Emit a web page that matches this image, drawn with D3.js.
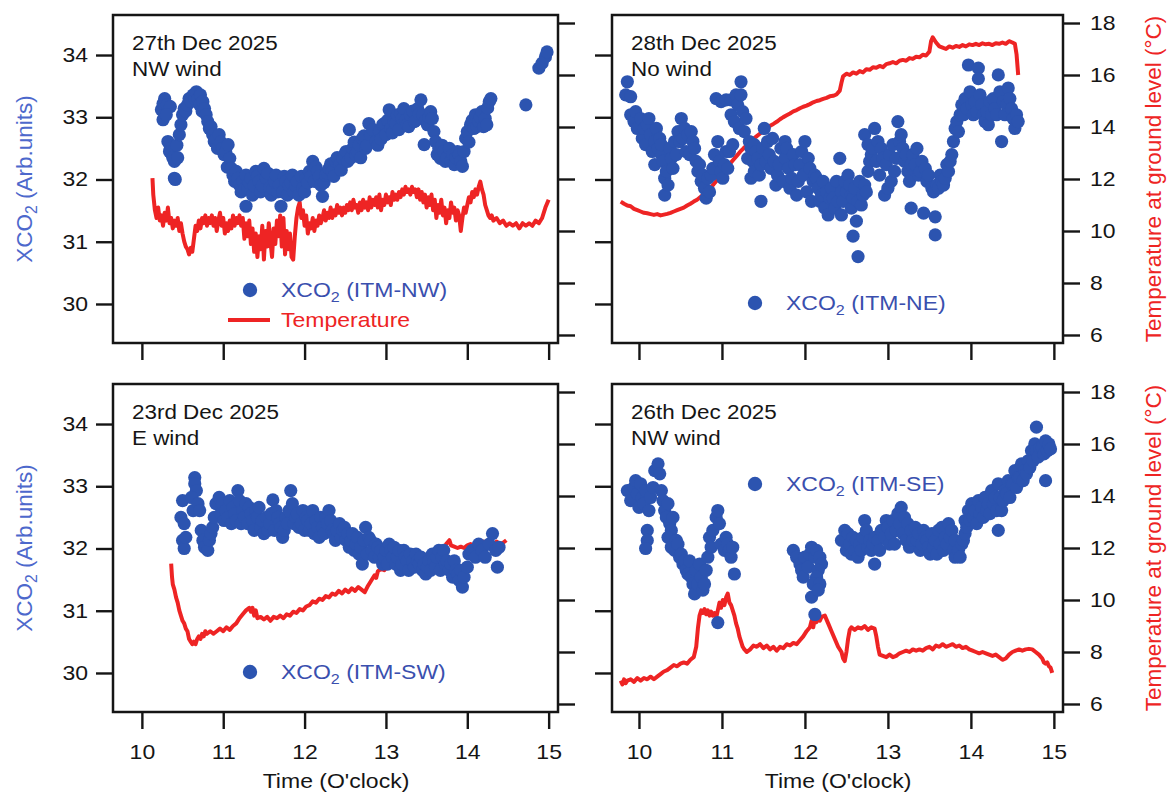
<!DOCTYPE html>
<html>
<head>
<meta charset="utf-8">
<script src="https://cdn.jsdelivr.net/npm/d3@7"></script>
<style>
  body { margin: 0; background: #fff; }
  svg { font-family: "Liberation Sans", Arial, sans-serif; }
  /* the source figure has slightly wide lettering */
  .wide { transform-box: fill-box; transform: scaleX(1.15); }
  .wide.start { transform-origin: 0% 50%; }
  .wide.mid { transform-origin: 50% 50%; }
  .wide.end { transform-origin: 100% 50%; }
</style>
</head>
<body>
<svg id="chart" width="1167" height="796"></svg>
<script>
// tick values
const timeTicks = [10, 11, 12, 13, 14, 15];
const xco2Ticks = [30, 31, 32, 33, 34];
const tempTicks = [6, 8, 10, 12, 14, 16, 18];

// 27th Dec, ITM-NW  [time, XCO2]
const xco2NW = [
  [10.24,33.12],[10.26,33.22],[10.28,33.30],[10.31,33.20],[10.35,33.17],[10.26,32.96],[10.30,33.04],[10.32,32.61],[10.35,32.50],[10.37,32.40],
  [10.40,32.29],[10.34,32.45],[10.40,32.02],[10.41,32.00],[10.38,32.35],[10.43,32.55],[10.44,32.35],[10.46,32.72],[10.48,32.88],[10.50,33.04],
  [10.52,33.14],[10.54,33.10],[10.56,33.20],[10.58,33.30],[10.60,33.25],[10.63,33.36],[10.65,33.30],[10.67,33.41],[10.69,33.30],[10.71,33.20],
  [10.72,33.36],[10.74,33.10],[10.75,33.25],[10.77,33.14],[10.79,33.04],[10.81,32.93],[10.83,32.82],[10.85,32.85],[10.87,32.72],[10.89,32.61],
  [10.91,32.65],[10.93,32.50],[10.95,32.72],[10.97,32.60],[10.99,32.50],[11.01,32.40],[11.03,32.45],[11.05,32.20],[11.06,32.56],[11.08,32.34],
  [11.10,32.18],[11.12,32.07],[11.14,31.97],[11.16,32.13],[11.18,32.02],[11.20,31.91],[11.22,31.80],[11.24,31.97],[11.26,31.85],[11.28,32.07],
  [11.30,31.86],[11.28,31.57],[11.32,31.95],[11.34,32.02],[11.36,31.75],[11.38,31.90],[11.40,32.13],[11.42,32.05],[11.44,31.97],[11.46,31.80],
  [11.48,31.90],[11.50,32.18],[11.53,32.02],[11.55,32.10],[11.57,31.86],[11.59,31.75],[11.61,31.85],[11.63,31.97],[11.65,32.07],[11.67,31.80],
  [11.69,31.91],[11.71,31.57],[11.73,31.80],[11.75,32.05],[11.77,31.97],[11.79,31.75],[11.81,31.91],[11.83,31.95],[11.85,32.07],[11.87,31.80],
  [11.89,31.90],[11.91,31.97],[11.93,31.75],[11.96,32.05],[11.98,31.86],[12.00,31.80],[12.02,32.02],[12.04,31.95],[12.06,32.13],[12.08,32.05],
  [12.10,32.29],[12.12,31.97],[12.14,32.20],[12.16,32.13],[12.18,32.05],[12.20,31.91],[12.22,31.73],[12.24,31.95],[12.26,32.07],[12.28,32.10],
  [12.30,32.18],[12.32,32.25],[12.34,32.13],[12.36,32.05],[12.38,32.29],[12.40,32.35],[12.43,32.24],[12.45,32.15],[12.47,32.34],[12.49,32.40],
  [12.51,32.45],[12.53,32.29],[12.55,32.80],[12.57,32.35],[12.59,32.50],[12.61,32.60],[12.63,32.40],[12.65,32.45],[12.67,32.56],[12.69,32.35],
  [12.71,32.66],[12.73,32.70],[12.75,32.50],[12.77,32.55],[12.79,32.90],[12.81,32.72],[12.84,32.80],[12.88,32.61],[12.90,32.55],[12.92,32.77],
  [12.94,32.65],[12.96,32.88],[12.98,32.90],[13.00,32.72],[13.02,32.95],[13.04,33.12],[13.06,32.82],[13.08,32.75],[13.10,32.93],[13.12,32.90],
  [13.14,33.04],[13.16,32.80],[13.18,33.05],[13.20,32.98],[13.22,33.14],[13.24,32.95],[13.26,32.88],[13.28,32.85],[13.30,33.04],[13.33,33.10],
  [13.35,32.93],[13.37,32.95],[13.39,33.14],[13.41,33.05],[13.43,33.28],[13.45,33.04],[13.47,32.56],[13.49,32.95],[13.51,32.88],[13.53,33.00],
  [13.55,33.09],[13.57,32.98],[13.59,32.77],[13.61,32.61],[13.63,32.40],[13.65,32.50],[13.67,32.34],[13.69,32.55],[13.71,32.45],[13.73,32.29],
  [13.75,32.35],[13.78,32.50],[13.80,32.30],[13.82,32.40],[13.84,32.24],[13.86,32.35],[13.88,32.45],[13.90,32.40],[13.92,32.29],[13.94,32.21],
  [13.96,32.45],[13.98,32.66],[14.00,32.77],[14.02,32.60],[14.04,32.88],[14.06,32.95],[14.08,32.82],[14.10,33.04],[14.12,32.85],[14.14,32.93],
  [14.16,33.00],[14.18,33.09],[14.20,32.85],[14.22,32.98],[14.24,32.88],[14.25,33.15],[14.27,33.25],[14.29,33.30],[14.72,33.20],[14.88,33.79],
  [14.92,33.87],[14.96,33.97],[14.98,34.05]
];

// 27th Dec temperature [time, degC]
const tempNW = [
  [10.13,12.03],[10.14,11.4],[10.16,10.8],[10.18,10.5],[10.20,10.9],[10.22,10.4],[10.24,10.6],[10.26,10.2],[10.28,10.7],[10.30,10.4],
  [10.32,10.9],[10.34,10.3],[10.36,10.5],[10.38,10.1],[10.40,10.4],[10.42,10.2],[10.44,10.5],[10.46,10.0],[10.48,10.3],[10.50,9.9],
  [10.52,9.6],[10.54,9.4],[10.56,9.3],[10.58,9.1],[10.60,9.35],[10.62,9.2],[10.64,9.7],[10.66,10.2],[10.68,10.0],[10.70,10.4],
  [10.72,10.1],[10.74,10.5],[10.76,10.3],[10.78,10.6],[10.80,10.2],[10.82,10.5],[10.84,10.3],[10.86,10.6],[10.88,10.2],[10.90,10.5],
  [10.92,10.0],[10.94,10.4],[10.96,10.7],[10.98,10.2],[11.00,10.5],[11.02,9.9],[11.04,10.3],[11.06,10.0],[11.08,10.4],[11.10,10.1],
  [11.12,10.6],[11.14,10.2],[11.16,10.5],[11.18,10.3],[11.20,10.6],[11.22,10.2],[11.24,10.5],[11.26,9.7],[11.28,10.3],[11.30,9.8],
  [11.32,10.4],[11.34,9.5],[11.36,10.1],[11.38,9.2],[11.40,9.9],[11.42,9.0],[11.44,9.8],[11.46,9.3],[11.48,10.2],[11.50,8.9],
  [11.52,10.0],[11.54,9.4],[11.56,10.3],[11.58,9.6],[11.60,9.0],[11.62,10.1],[11.64,9.5],[11.66,10.4],[11.68,9.8],[11.70,10.6],
  [11.72,9.4],[11.74,10.5],[11.76,9.1],[11.78,10.0],[11.80,9.3],[11.82,9.9],[11.84,9.0],[11.86,8.9],[11.88,9.8],[11.90,10.5],
  [11.92,10.9],[11.94,11.1],[11.96,10.5],[11.98,10.8],[12.00,10.2],[12.02,10.6],[12.04,9.9],[12.06,10.3],[12.08,10.1],[12.10,10.5],
  [12.12,10.0],[12.14,10.4],[12.16,10.2],[12.18,10.6],[12.20,10.3],[12.22,10.5],[12.24,10.8],[12.26,10.4],[12.28,10.7],[12.30,10.5],
  [12.32,10.9],[12.34,10.5],[12.36,10.8],[12.38,10.6],[12.40,11.0],[12.42,10.7],[12.44,10.9],[12.46,10.6],[12.48,10.9],[12.50,10.7],
  [12.52,11.0],[12.54,10.8],[12.56,11.1],[12.58,10.8],[12.60,11.2],[12.62,10.9],[12.64,11.0],[12.66,10.7],[12.68,11.1],[12.70,10.8],
  [12.72,11.2],[12.74,10.9],[12.76,11.1],[12.78,10.8],[12.80,11.3],[12.82,10.9],[12.84,11.2],[12.86,11.0],[12.88,11.3],[12.90,10.9],
  [12.92,11.4],[12.94,10.8],[12.96,11.2],[12.98,11.0],[13.00,11.4],[13.02,11.1],[13.04,11.3],[13.06,11.0],[13.08,11.5],[13.10,11.2],
  [13.12,11.4],[13.14,11.2],[13.16,11.5],[13.18,11.3],[13.20,11.6],[13.22,11.4],[13.24,11.7],[13.26,11.5],[13.28,11.6],[13.30,11.4],
  [13.32,11.7],[13.34,11.5],[13.36,11.6],[13.38,11.3],[13.40,11.6],[13.42,11.2],[13.44,11.5],[13.46,11.1],[13.48,11.4],[13.50,10.9],
  [13.52,11.3],[13.54,11.0],[13.56,11.4],[13.58,10.8],[13.60,11.2],[13.62,10.5],[13.64,11.0],[13.66,10.7],[13.68,11.2],[13.70,10.6],
  [13.72,10.9],[13.74,10.3],[13.76,10.8],[13.78,10.5],[13.80,11.1],[13.82,10.7],[13.84,10.9],[13.86,10.4],[13.88,10.8],[13.90,10.6],
  [13.92,10.0],[13.94,10.5],[13.96,10.9],[13.98,10.7],[14.00,11.0],[14.02,11.3],[14.04,11.1],[14.06,11.5],[14.08,11.3],[14.10,11.6],
  [14.12,11.4],[14.14,11.7],[14.16,11.9],[14.18,11.6],[14.20,11.4],[14.22,11.0],[14.24,10.8],[14.26,10.6],[14.28,10.5],[14.30,10.6],
  [14.32,10.4],[14.36,10.5],[14.40,10.3],[14.44,10.4],[14.48,10.2],[14.52,10.3],[14.56,10.2],[14.60,10.3],[14.64,10.1],[14.68,10.3],
  [14.72,10.2],[14.76,10.3],[14.80,10.2],[14.84,10.4],[14.88,10.3],[14.92,10.5],[14.96,10.9],[15.00,11.2]
];

// 28th Dec, ITM-NE  [time, XCO2]
const xco2NE = [
  [9.86,33.57],[9.84,33.36],[9.90,33.33],[9.90,33.04],[9.94,32.93],[9.96,33.09],[9.98,32.82],[10.02,32.98],[10.04,32.66],[10.06,32.82],
  [10.08,32.56],[10.10,32.88],[10.12,32.98],[10.14,32.72],[10.16,32.45],[10.19,32.61],[10.21,32.82],[10.23,32.50],[10.25,32.66],[10.27,32.40],
  [10.27,32.56],[10.19,32.24],[10.29,32.29],[10.31,32.02],[10.31,31.75],[10.33,32.13],[10.35,31.91],[10.37,32.50],[10.39,32.34],[10.41,32.18],
  [10.43,32.61],[10.45,32.40],[10.47,32.77],[10.49,32.61],[10.51,32.98],[10.53,32.66],[10.55,32.82],[10.57,32.45],[10.59,32.72],[10.61,32.40],
  [10.63,32.77],[10.65,32.61],[10.67,32.50],[10.69,32.29],[10.71,32.13],[10.73,32.24],[10.75,31.97],[10.77,32.07],[10.79,31.86],[10.81,31.70],
  [10.83,32.02],[10.85,31.80],[10.87,32.07],[10.89,32.18],[10.91,32.40],[10.93,33.30],[10.95,32.61],[10.97,32.29],[10.99,32.13],[10.99,33.25],
  [11.01,32.02],[11.03,32.24],[11.05,32.45],[11.05,33.28],[11.07,32.18],[11.09,32.45],[11.11,33.28],[11.11,33.04],[11.13,32.56],[11.15,32.93],
  [11.17,33.36],[11.19,33.20],[11.21,32.82],[11.23,33.36],[11.23,33.57],[11.25,33.09],[11.27,32.77],[11.29,32.98],[11.31,32.34],[11.33,32.61],
  [11.35,32.50],[11.35,32.02],[11.37,32.29],[11.39,32.56],[11.39,32.13],[11.41,32.45],[11.43,32.34],[11.45,32.07],[11.47,32.24],[11.47,31.65],
  [11.49,32.50],[11.51,32.82],[11.53,32.29],[11.55,32.61],[11.57,32.40],[11.59,32.18],[11.61,32.66],[11.63,32.29],[11.65,31.91],[11.67,32.07],
  [11.69,32.24],[11.71,32.50],[11.74,31.97],[11.76,32.61],[11.76,32.34],[11.78,32.50],[11.80,32.18],[11.82,31.86],[11.84,32.02],[11.86,32.40],
  [11.88,32.24],[11.90,31.75],[11.92,31.97],[11.94,32.24],[11.96,32.45],[11.98,32.07],[12.00,32.61],[12.02,31.80],[12.04,32.34],[12.06,32.18],
  [12.08,31.65],[12.10,31.97],[12.12,32.07],[12.14,32.02],[12.16,31.86],[12.18,31.65],[12.20,31.75],[12.22,31.97],[12.24,31.54],[12.26,31.80],
  [12.28,31.43],[12.30,31.70],[12.32,31.86],[12.34,31.70],[12.36,31.54],[12.38,31.97],[12.40,31.65],[12.42,32.34],[12.44,31.80],[12.44,31.43],
  [12.46,31.65],[12.48,31.97],[12.50,31.80],[12.52,32.07],[12.54,31.91],[12.56,31.75],[12.56,31.54],[12.58,31.70],[12.60,31.86],[12.62,31.33],
  [12.58,31.09],[12.64,30.76],[12.64,31.65],[12.66,31.97],[12.68,31.59],[12.70,31.75],[12.72,31.91],[12.74,31.80],[12.76,32.13],[12.72,32.72],
  [12.76,32.56],[12.78,32.29],[12.80,32.40],[12.82,32.50],[12.84,32.82],[12.86,32.29],[12.88,32.61],[12.90,32.07],[12.92,32.50],[12.94,32.34],
  [12.96,31.75],[12.98,32.24],[13.00,31.86],[13.02,32.40],[13.04,31.97],[13.06,32.56],[13.08,32.13],[13.10,32.34],[13.12,32.93],[13.14,32.61],
  [13.16,32.72],[13.18,32.50],[13.20,32.29],[13.22,32.40],[13.24,32.13],[13.26,31.97],[13.28,32.24],[13.28,31.54],[13.30,32.40],[13.33,32.24],
  [13.35,32.50],[13.37,32.07],[13.39,32.13],[13.41,32.29],[13.43,31.46],[13.45,32.18],[13.47,31.97],[13.49,32.07],[13.53,31.86],[13.55,31.80],
  [13.57,31.40],[13.57,31.11],[13.59,31.91],[13.61,31.86],[13.63,32.07],[13.65,31.97],[13.67,31.91],[13.69,32.02],[13.71,32.24],[13.73,32.13],
  [13.75,32.29],[13.77,32.40],[13.79,32.61],[13.81,32.82],[13.83,32.93],[13.85,32.77],[13.87,33.04],[13.89,33.20],[13.91,33.04],[13.93,33.30],
  [13.95,33.14],[13.97,33.84],[13.99,33.41],[14.01,33.20],[14.03,33.04],[14.05,33.25],[14.07,33.09],[14.09,33.79],[14.09,33.62],[14.11,33.36],
  [14.13,33.20],[14.15,33.04],[14.17,32.93],[14.19,33.09],[14.21,32.88],[14.23,33.25],[14.25,33.04],[14.27,33.30],[14.29,33.14],[14.31,33.04],
  [14.33,33.68],[14.35,33.41],[14.37,32.61],[14.39,33.25],[14.41,33.04],[14.43,33.20],[14.45,33.47],[14.47,33.30],[14.49,33.14],[14.51,32.98],
  [14.53,32.82],[14.55,33.04],[14.57,32.93]
];

// 28th Dec temperature
const tempNE = [
  [9.78,11.13],[9.82,11.05],[9.86,10.98],[9.90,10.95],[9.94,10.85],[9.98,10.8],[10.02,10.75],[10.06,10.7],[10.10,10.68],[10.14,10.65],
  [10.18,10.62],[10.22,10.65],[10.26,10.6],[10.30,10.63],[10.34,10.66],[10.38,10.7],[10.42,10.75],[10.46,10.8],[10.50,10.85],[10.54,10.9],
  [10.58,10.98],[10.62,11.05],[10.66,11.13],[10.70,11.2],[10.74,11.3],[10.78,11.42],[10.82,11.55],[10.86,11.65],[10.90,11.8],[10.94,11.95],
  [10.98,12.1],[11.02,12.3],[11.06,12.45],[11.10,12.6],[11.14,12.75],[11.18,12.9],[11.22,13.05],[11.26,13.18],[11.30,13.3],[11.34,13.45],
  [11.38,13.55],[11.42,13.65],[11.46,13.75],[11.50,13.85],[11.54,13.95],[11.58,14.05],[11.62,14.12],[11.66,14.2],[11.70,14.3],[11.74,14.38],
  [11.78,14.45],[11.82,14.52],[11.86,14.6],[11.90,14.65],[11.94,14.72],[11.98,14.78],[12.02,14.82],[12.06,14.88],[12.10,14.95],[12.14,15.0],
  [12.18,15.03],[12.22,15.08],[12.26,15.12],[12.30,15.18],[12.34,15.2],[12.38,15.25],[12.42,15.4],[12.44,15.7],[12.46,15.95],[12.50,16.05],
  [12.54,16.0],[12.58,16.1],[12.62,16.05],[12.66,16.15],[12.70,16.1],[12.74,16.22],[12.78,16.2],[12.82,16.3],[12.86,16.28],[12.90,16.35],
  [12.94,16.3],[12.98,16.42],[13.02,16.45],[13.06,16.5],[13.10,16.45],[13.14,16.55],[13.18,16.58],[13.22,16.55],[13.26,16.65],[13.30,16.62],
  [13.34,16.7],[13.38,16.68],[13.42,16.78],[13.46,16.75],[13.50,16.9],[13.52,17.3],[13.54,17.45],[13.58,17.25],[13.62,17.1],[13.66,17.05],
  [13.70,17.0],[13.74,17.1],[13.78,17.05],[13.82,17.12],[13.86,17.08],[13.90,17.15],[13.94,17.1],[13.98,17.18],[14.02,17.15],[14.06,17.2],
  [14.10,17.15],[14.14,17.22],[14.18,17.18],[14.22,17.2],[14.26,17.15],[14.30,17.22],[14.34,17.2],[14.38,17.25],[14.42,17.2],[14.46,17.3],
  [14.50,17.25],[14.53,17.2],[14.55,16.8],[14.57,16.0]
];

// 23rd Dec, ITM-SW  [time, XCO2]
const xco2SW = [
  [10.50,32.77],[10.48,32.50],[10.52,32.40],[10.50,32.13],[10.52,32.00],[10.54,32.18],[10.63,32.61],[10.65,33.14],[10.65,33.04],[10.67,32.93],
  [10.61,32.82],[10.69,32.72],[10.71,32.61],[10.73,32.29],[10.75,32.13],[10.77,32.02],[10.81,31.97],[10.83,32.13],[10.85,32.24],[10.87,32.34],
  [10.89,32.50],[10.91,32.72],[10.95,32.82],[10.97,32.56],[10.99,32.72],[11.01,32.45],[11.03,32.61],[11.06,32.50],[11.08,32.77],[11.10,32.40],
  [11.12,32.66],[11.14,32.56],[11.16,32.45],[11.18,32.93],[11.20,32.77],[11.22,32.40],[11.24,32.61],[11.26,32.50],[11.28,32.72],[11.30,32.40],
  [11.32,32.66],[11.34,32.56],[11.36,32.45],[11.38,32.29],[11.40,32.61],[11.42,32.50],[11.44,32.66],[11.46,32.34],[11.48,32.45],[11.50,32.24],
  [11.53,32.50],[11.55,32.29],[11.57,32.40],[11.59,32.56],[11.61,32.78],[11.63,32.29],[11.65,32.61],[11.67,32.50],[11.69,32.40],[11.71,32.34],
  [11.73,32.18],[11.75,32.29],[11.77,32.50],[11.79,32.40],[11.81,32.61],[11.83,32.93],[11.85,32.72],[11.87,32.40],[11.89,32.50],[11.91,32.56],
  [11.93,32.34],[11.96,32.40],[11.98,32.61],[12.00,32.29],[12.02,32.50],[12.04,32.45],[12.06,32.29],[12.08,32.40],[12.10,32.61],[12.12,32.24],
  [12.14,32.45],[12.16,32.34],[12.18,32.18],[12.20,32.50],[12.22,32.34],[12.24,32.24],[12.26,32.50],[12.28,32.40],[12.30,32.61],[12.32,32.45],
  [12.34,32.29],[12.36,32.24],[12.38,32.13],[12.40,32.29],[12.43,32.40],[12.45,32.18],[12.47,32.29],[12.49,32.34],[12.51,32.13],[12.53,32.24],
  [12.55,32.02],[12.57,32.13],[12.59,32.24],[12.61,31.97],[12.63,32.07],[12.65,32.18],[12.67,31.91],[12.69,32.02],[12.71,31.75],[12.73,32.13],
  [12.75,32.34],[12.77,31.91],[12.79,32.18],[12.81,32.13],[12.83,31.97],[12.86,31.86],[12.88,32.07],[12.90,32.02],[12.92,31.86],[12.94,31.97],
  [12.96,31.75],[12.98,31.86],[13.00,31.97],[13.02,31.75],[13.04,32.07],[13.06,31.97],[13.08,31.86],[13.10,32.02],[13.12,31.75],[13.14,31.86],
  [13.16,31.97],[13.18,31.65],[13.20,31.75],[13.22,31.97],[13.24,31.86],[13.26,31.80],[13.28,31.65],[13.30,31.91],[13.33,31.80],[13.35,31.70],
  [13.37,31.91],[13.39,31.80],[13.41,31.75],[13.43,31.86],[13.45,31.65],[13.47,31.75],[13.49,31.59],[13.51,31.70],[13.53,31.80],[13.55,31.65],
  [13.57,31.91],[13.59,31.80],[13.61,31.70],[13.63,31.86],[13.65,31.97],[13.67,31.65],[13.69,31.86],[13.71,31.97],[13.73,31.75],[13.75,31.80],
  [13.78,31.65],[13.80,31.75],[13.82,31.54],[13.84,31.80],[13.86,31.65],[13.88,31.59],[13.90,31.49],[13.92,31.65],[13.94,31.38],[13.96,31.54],
  [14.00,31.70],[14.02,31.91],[14.06,31.97],[14.10,31.86],[14.14,32.07],[14.18,31.97],[14.22,31.86],[14.27,32.07],[14.31,32.24],[14.35,31.97],
  [14.37,31.70],[14.39,32.02]
];

// 23rd Dec temperature
const tempSW = [
  [10.36,11.4],[10.37,10.9],[10.38,10.6],[10.40,10.4],[10.42,10.1],[10.44,9.9],[10.46,9.6],[10.48,9.4],[10.50,9.2],[10.52,9.1],
  [10.54,8.9],[10.56,8.8],[10.58,8.5],[10.60,8.4],[10.62,8.3],[10.64,8.4],[10.66,8.3],[10.68,8.5],[10.70,8.6],[10.72,8.5],
  [10.74,8.7],[10.76,8.6],[10.78,8.8],[10.80,8.7],[10.84,8.8],[10.88,8.7],[10.92,8.8],[10.96,8.9],[11.00,8.8],[11.04,8.95],
  [11.08,8.85],[11.12,9.0],[11.16,9.1],[11.20,9.3],[11.24,9.45],[11.28,9.6],[11.32,9.7],[11.34,9.55],[11.36,9.7],[11.38,9.4],
  [11.40,9.6],[11.42,9.3],[11.46,9.35],[11.50,9.25],[11.54,9.35],[11.58,9.2],[11.62,9.35],[11.66,9.3],[11.70,9.4],[11.74,9.3],
  [11.78,9.45],[11.82,9.4],[11.86,9.55],[11.90,9.5],[11.94,9.65],[11.98,9.6],[12.02,9.75],[12.06,9.8],[12.10,9.95],[12.14,9.9],
  [12.18,10.05],[12.22,10.0],[12.26,10.15],[12.30,10.1],[12.34,10.25],[12.38,10.2],[12.42,10.35],[12.46,10.25],[12.50,10.4],[12.54,10.3],
  [12.58,10.45],[12.62,10.35],[12.66,10.5],[12.70,10.4],[12.74,10.3],[12.78,10.55],[12.82,10.75],[12.86,10.95],[12.88,10.85],[12.90,11.1],
  [12.94,11.2],[12.98,11.15],[13.02,11.3],[13.06,11.35],[13.10,11.25],[13.14,11.4],[13.18,11.3],[13.22,11.45],[13.26,11.4],[13.30,11.5],
  [13.34,11.45],[13.38,11.6],[13.42,11.55],[13.46,11.6],[13.50,11.7],[13.54,11.65],[13.58,11.75],[13.62,11.8],[13.66,11.75],[13.70,11.9],
  [13.74,12.15],[13.78,12.3],[13.80,12.1],[13.84,12.05],[13.88,12.0],[13.92,12.05],[13.96,12.0],[14.00,12.1],[14.04,12.15],[14.08,12.1],
  [14.12,12.2],[14.16,12.15],[14.20,12.25],[14.24,12.2],[14.28,12.15],[14.32,12.1],[14.36,12.25],[14.40,12.15],[14.44,12.2],[14.48,12.3]
];

// 26th Dec, ITM-SE  [time, XCO2]
const xco2SE = [
  [9.86,32.93],[9.90,32.77],[9.94,32.98],[9.96,33.09],[9.98,32.88],[10.00,32.66],[10.02,33.04],[10.04,32.82],[10.06,32.72],[10.08,32.93],
  [10.10,32.29],[10.10,32.13],[10.08,32.00],[10.12,32.61],[10.14,32.82],[10.17,32.98],[10.19,33.25],[10.23,33.36],[10.25,33.20],[10.27,32.93],
  [10.29,32.77],[10.31,32.61],[10.33,32.50],[10.35,32.72],[10.37,32.40],[10.39,32.29],[10.41,32.50],[10.35,32.18],[10.39,32.02],[10.43,31.97],
  [10.45,32.13],[10.47,32.07],[10.49,31.86],[10.51,31.91],[10.53,31.75],[10.55,31.80],[10.57,31.65],[10.59,31.59],[10.61,31.80],[10.63,31.54],
  [10.65,31.43],[10.67,31.27],[10.69,31.65],[10.71,31.43],[10.73,31.75],[10.75,31.54],[10.77,31.33],[10.79,31.43],[10.81,31.65],[10.83,31.86],
  [10.85,32.18],[10.87,32.02],[10.89,32.29],[10.93,32.50],[10.95,32.61],[10.97,32.40],[10.99,32.07],[11.03,31.97],[11.05,32.18],[11.07,32.07],
  [11.09,31.97],[11.11,31.86],[11.13,32.02],[11.15,31.59],[10.95,30.81],
  [11.86,31.97],[11.90,31.86],[11.94,31.75],[11.96,31.65],[11.98,31.54],[12.00,31.86],[12.04,31.70],[12.06,31.91],[12.08,32.02],[12.12,31.86],
  [12.14,31.97],[12.18,31.86],[12.20,31.75],[12.16,31.65],[12.14,31.54],[12.10,31.43],[12.08,31.22],[12.18,31.43],[12.16,31.33],[12.12,30.94],
  [12.44,32.13],[12.48,32.29],[12.50,31.97],[12.52,32.24],[12.54,32.07],[12.56,31.91],[12.58,32.18],[12.60,31.97],[12.62,32.13],[12.64,31.86],
  [12.66,32.07],[12.68,31.97],[12.70,32.18],[12.72,32.45],[12.74,32.29],[12.76,32.02],[12.78,32.13],[12.80,31.97],[12.82,32.07],[12.84,31.75],
  [12.84,32.18],[12.88,32.13],[12.90,31.97],[12.92,32.29],[12.96,32.18],[12.98,32.45],[13.00,32.34],[13.02,32.07],[13.04,32.24],[13.06,32.45],
  [13.08,32.07],[13.10,32.29],[13.12,32.56],[13.14,32.40],[13.16,32.66],[13.18,32.24],[13.20,32.50],[13.22,32.13],[13.24,32.40],[13.26,32.02],
  [13.28,32.29],[13.30,32.13],[13.33,32.34],[13.35,32.13],[13.37,32.24],[13.39,31.97],[13.41,32.07],[13.43,32.29],[13.45,32.18],[13.47,32.13],
  [13.49,32.02],[13.51,31.91],[13.53,32.24],[13.55,32.02],[13.57,32.13],[13.59,31.91],[13.61,32.29],[13.63,32.07],[13.65,32.34],[13.67,31.97],
  [13.69,32.18],[13.71,32.07],[13.73,32.40],[13.75,32.18],[13.77,32.29],[13.79,31.97],[13.81,32.13],[13.81,31.86],[13.85,31.97],[13.87,31.86],
  [13.89,32.07],[13.91,32.13],[13.93,32.24],[13.93,32.45],[13.95,32.34],[13.97,32.61],[13.99,32.45],[14.01,32.72],[14.03,32.50],[14.05,32.61],
  [14.07,32.40],[14.09,32.77],[14.11,32.56],[14.13,32.66],[14.15,32.50],[14.17,32.82],[14.19,32.61],[14.21,32.72],[14.23,32.56],[14.25,32.93],
  [14.27,32.72],[14.29,32.82],[14.31,32.61],[14.33,33.04],[14.33,32.29],[14.35,32.82],[14.37,32.61],[14.39,32.77],[14.41,32.93],[14.43,32.88],
  [14.45,33.09],[14.47,32.82],[14.49,33.04],[14.51,33.04],[14.53,33.25],[14.55,32.98],[14.57,33.14],[14.59,33.14],[14.61,33.36],[14.63,33.09],
  [14.65,33.25],[14.67,33.20],[14.69,33.41],[14.71,33.30],[14.73,33.57],[14.75,33.41],[14.77,33.68],[14.79,33.57],[14.79,33.95],[14.81,33.47],
  [14.83,33.62],[14.86,33.62],[14.88,33.52],[14.90,33.73],[14.92,33.57],[14.94,33.68],[14.90,33.09],[14.96,33.60]
];

// 26th Dec temperature
const tempSE = [
  [9.78,6.9],[9.80,6.75],[9.82,6.95],[9.84,6.8],[9.86,6.9],[9.90,6.95],[9.94,6.85],[9.98,7.0],[10.02,6.9],[10.06,7.0],
  [10.10,6.95],[10.14,7.05],[10.18,6.95],[10.22,7.05],[10.26,7.15],[10.30,7.25],[10.34,7.3],[10.38,7.4],[10.42,7.5],[10.46,7.45],
  [10.50,7.55],[10.54,7.6],[10.58,7.55],[10.62,7.7],[10.66,7.8],[10.69,8.2],[10.71,8.9],[10.73,9.4],[10.75,9.6],[10.77,9.5],
  [10.79,9.65],[10.81,9.45],[10.83,9.6],[10.85,9.4],[10.87,9.55],[10.89,9.4],[10.91,9.5],[10.93,9.3],[10.95,9.6],[10.97,9.9],
  [10.99,9.7],[11.01,10.0],[11.03,9.8],[11.05,10.1],[11.07,10.25],[11.09,9.9],[11.11,9.8],[11.13,9.6],[11.15,9.4],[11.17,9.1],
  [11.19,8.9],[11.21,8.6],[11.23,8.4],[11.25,8.2],[11.27,8.1],[11.30,8.0],[11.34,8.1],[11.38,8.25],[11.42,8.2],[11.46,8.3],
  [11.50,8.15],[11.54,8.25],[11.58,8.1],[11.62,8.2],[11.66,8.05],[11.70,8.2],[11.74,8.15],[11.78,8.3],[11.82,8.25],[11.86,8.35],
  [11.90,8.3],[11.94,8.45],[11.98,8.6],[12.02,8.8],[12.06,8.95],[12.08,9.2],[12.10,8.95],[12.12,9.3],[12.14,9.15],[12.16,9.45],
  [12.18,9.2],[12.20,9.35],[12.24,9.4],[12.28,9.1],[12.32,8.8],[12.36,8.5],[12.40,8.2],[12.44,8.0],[12.46,7.75],[12.48,7.65],
  [12.50,8.0],[12.52,8.5],[12.54,8.85],[12.56,8.95],[12.60,8.85],[12.64,8.95],[12.68,8.9],[12.72,9.0],[12.76,8.85],[12.80,8.95],
  [12.84,8.9],[12.86,8.6],[12.88,8.2],[12.90,7.9],[12.94,7.85],[12.98,7.8],[13.02,7.9],[13.06,7.8],[13.10,7.85],[13.14,7.95],
  [13.18,8.0],[13.22,8.05],[13.26,8.0],[13.30,8.1],[13.34,8.05],[13.38,8.1],[13.42,8.05],[13.46,8.15],[13.50,8.2],[13.54,8.1],
  [13.58,8.25],[13.62,8.2],[13.66,8.3],[13.70,8.2],[13.74,8.25],[13.78,8.3],[13.82,8.2],[13.86,8.25],[13.90,8.15],[13.94,8.2],
  [13.98,8.1],[14.02,8.05],[14.06,8.0],[14.10,7.95],[14.14,8.0],[14.18,7.95],[14.22,7.9],[14.26,7.85],[14.30,7.9],[14.34,7.8],
  [14.38,7.7],[14.42,7.75],[14.46,7.9],[14.50,8.0],[14.54,8.05],[14.58,8.1],[14.62,8.05],[14.66,8.1],[14.70,8.12],[14.74,8.1],
  [14.78,8.0],[14.82,7.9],[14.86,7.75],[14.88,7.6],[14.90,7.55],[14.92,7.6],[14.94,7.45],[14.96,7.4],[14.98,7.2]
];

const xco2Domain = [29.373, 34.643];
const tempDomain = [5.692, 18.308];

// panel layout
const panels = [
  { date: "27th Dec 2025", wind: "NW wind", site: "ITM-NW", pts: xco2NW, temp: tempNW,
    left: 113, right: 558, top: 15, bottom: 343, xDomain: [9.645, 15.115], col: 0, row: 0,
    legend: [137, 275], tempLegend: true },
  { date: "28th Dec 2025", wind: "No wind", site: "ITM-NE", pts: xco2NE, temp: tempNE,
    left: 612, right: 1063, top: 15, bottom: 343, xDomain: [9.675, 15.11], col: 1, row: 0,
    legend: [143, 288], tempLegend: false },
  { date: "23rd Dec 2025", wind: "E wind", site: "ITM-SW", pts: xco2SW, temp: tempSW,
    left: 113, right: 558, top: 384, bottom: 712, xDomain: [9.645, 15.115], col: 0, row: 1,
    legend: [137, 288], tempLegend: false },
  { date: "26th Dec 2025", wind: "NW wind", site: "ITM-SE", pts: xco2SE, temp: tempSE,
    left: 612, right: 1063, top: 384, bottom: 712, xDomain: [9.675, 15.11], col: 1, row: 1,
    legend: [143, 100], tempLegend: false }
];

const blue = "#2c54b0";
const red = "#ee2424";
const ink = "#151515";

const svg = d3.select("#chart");

function styleAxis(g, anchor) {
  g.select(".domain").remove();
  g.attr("font-family", null).attr("font-size", null);
  g.selectAll(".tick line").attr("stroke", ink).attr("stroke-width", 2.4);
  g.selectAll(".tick text").attr("fill", ink).style("font-size", "20px")
    .attr("class", "wide " + anchor);
}

function xco2Label(sel) {
  sel.append("tspan").text("XCO");
  sel.append("tspan").attr("font-size", "70%").attr("dy", 5).text("2");
  sel.append("tspan").attr("dy", -5);
}

panels.forEach(p => {
  const x = d3.scaleLinear().domain(p.xDomain).range([p.left, p.right]);
  const y = d3.scaleLinear().domain(xco2Domain).range([p.bottom, p.top]);
  const yT = d3.scaleLinear().domain(tempDomain).range([p.bottom, p.top]);
  const g = svg.append("g");

  // temperature line under the dots
  const line = d3.line().x(d => x(d[0])).y(d => yT(d[1]));
  g.append("path")
    .datum(p.temp)
    .attr("d", line)
    .attr("fill", "none")
    .attr("stroke", red)
    .attr("stroke-width", 4)
    .attr("stroke-linejoin", "round");

  g.selectAll("circle.pt")
    .data(p.pts)
    .enter()
    .append("circle")
    .attr("class", "pt")
    .attr("cx", d => x(d[0]))
    .attr("cy", d => y(d[1]))
    .attr("r", 6.6)
    .attr("fill", blue);

  // frame
  g.append("rect")
    .attr("x", p.left).attr("y", p.top)
    .attr("width", p.right - p.left).attr("height", p.bottom - p.top)
    .attr("fill", "none").attr("stroke", ink).attr("stroke-width", 2.5);

  // axes
  g.append("g")
    .attr("transform", `translate(${p.left},0)`)
    .call(d3.axisLeft(y).tickValues(xco2Ticks).tickSize(17).tickPadding(8)
      .tickFormat(p.col === 0 ? d3.format("d") : () => ""))
    .call(styleAxis, "end");

  g.append("g")
    .attr("transform", `translate(${p.right},0)`)
    .call(d3.axisRight(yT).tickValues(tempTicks).tickSize(17).tickPadding(10)
      .tickFormat(p.col === 1 ? d3.format("d") : () => ""))
    .call(styleAxis, "start");

  g.append("g")
    .attr("transform", `translate(0,${p.bottom})`)
    .call(d3.axisBottom(x).tickValues(timeTicks).tickSize(17).tickPadding(16)
      .tickFormat(p.row === 1 ? d3.format("d") : () => ""))
    .call(styleAxis, "mid");

  // date + wind
  g.append("text").attr("class", "wide start")
    .attr("x", p.left + 19).attr("y", p.top + 35)
    .attr("fill", ink).style("font-size", "19.5px").text(p.date);
  g.append("text").attr("class", "wide start")
    .attr("x", p.left + 19).attr("y", p.top + 61)
    .attr("fill", ink).style("font-size", "19.5px").text(p.wind);

  // legend
  const lx = p.left + p.legend[0], ly = p.top + p.legend[1];
  g.append("circle").attr("cx", lx).attr("cy", ly).attr("r", 7.2).attr("fill", blue);
  const lt = g.append("text").attr("class", "wide start")
    .attr("x", lx + 31).attr("y", ly + 7)
    .attr("fill", "#3a4fae").style("font-size", "20px");
  xco2Label(lt);
  lt.select("tspan:last-child").text(` (${p.site})`);
  if (p.tempLegend) {
    g.append("line").attr("x1", lx - 22).attr("x2", lx + 20)
      .attr("y1", ly + 30).attr("y2", ly + 30)
      .attr("stroke", red).attr("stroke-width", 4);
    g.append("text").attr("class", "wide start")
      .attr("x", lx + 31).attr("y", ly + 37)
      .attr("fill", red).style("font-size", "20px").text("Temperature");
  }

  // axis titles
  if (p.col === 0) {
    const t = g.append("text")
      .attr("transform", `translate(32,${(p.top + p.bottom) / 2}) rotate(-90)`)
      .attr("text-anchor", "middle")
      .attr("fill", "#4d68cc").style("font-size", "22.5px");
    xco2Label(t);
    t.select("tspan:last-child").text(" (Arb.units)");
  } else {
    g.append("text")
      .attr("transform", `translate(1161,${(p.top + p.bottom) / 2}) rotate(-90)`)
      .attr("text-anchor", "middle")
      .attr("fill", red).style("font-size", "22.5px")
      .text("Temperature at ground level (\u00B0C)");
  }
  if (p.row === 1) {
    g.append("text").attr("class", "wide mid")
      .attr("x", p.col === 0 ? 336 : 838).attr("y", 788)
      .attr("text-anchor", "middle")
      .attr("fill", ink).style("font-size", "20px")
      .text("Time (O'clock)");
  }
});
</script>
</body>
</html>
